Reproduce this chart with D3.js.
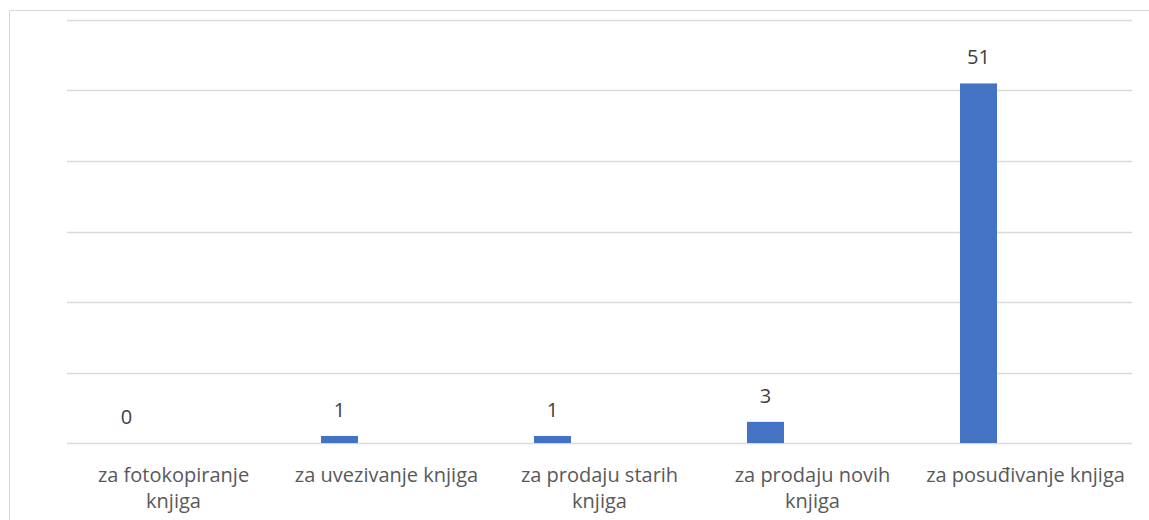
<!DOCTYPE html>
<html>
<head>
<meta charset="utf-8">
<script src="https://cdn.jsdelivr.net/npm/d3@7"></script>
<style>
  body { margin: 0; background: #fff; }
  svg text { font-family: "Open Sans", "Liberation Sans", Arial, sans-serif; }
</style>
</head>
<body>
<div id="chart"></div>
<script>
// data
var categories = ["za fotokopiranje knjiga", "za uvezivanje knjiga", "za prodaju starih knjiga", "za prodaju novih knjiga", "za posuđivanje knjiga"];
var values = [0, 1, 1, 3, 51];
var yTicks = [0, 10, 20, 30, 40, 50, 60];

var width = 1149, height = 520;
var margin = { top: 20, right: 17, bottom: 77, left: 67 };
var innerW = width - margin.left - margin.right;
var innerH = height - margin.top - margin.bottom;

var svg = d3.select("#chart")
  .append("svg")
    .attr("width", width)
    .attr("height", height);

// chart area border (only top and left edges are in view)
svg.append("path")
  .attr("d", "M9.5," + height + "V10.5H" + width)
  .attr("fill", "none")
  .attr("stroke", "#d9d9d9")
  .attr("stroke-width", 1);

var g = svg.append("g")
  .attr("transform", "translate(" + margin.left + "," + margin.top + ")");

var x = d3.scaleBand()
  .domain(categories)
  .range([0, innerW]);

var y = d3.scaleLinear()
  .domain([0, 60])
  .range([innerH, 0]);

// gridlines
g.selectAll(".grid")
  .data(yTicks)
  .enter().append("line")
    .attr("x1", 0)
    .attr("x2", innerW)
    .attr("y1", function(d) { return Math.round(y(d)) + 0.5; })
    .attr("y2", function(d) { return Math.round(y(d)) + 0.5; })
    .attr("stroke", "#d9d9d9")
    .attr("stroke-width", 1.3);

// bars sit left of the category centre (first series of a cluster)
var barW = 37;
var barShift = -47;
function barCenter(d, i) { return x(categories[i]) + x.bandwidth() / 2 + barShift; }

g.selectAll(".bar")
  .data(values)
  .enter().append("rect")
    .attr("x", function(d, i) { return barCenter(d, i) - barW / 2; })
    .attr("y", function(d) { return y(d); })
    .attr("width", barW)
    .attr("height", function(d) { return y(0) - y(d); })
    .attr("fill", "#4472c4");

// data labels
g.selectAll(".val")
  .data(values)
  .enter().append("text")
    .attr("x", barCenter)
    .attr("y", function(d) { return y(d) - 19; })
    .attr("text-anchor", "middle")
    .style("font-size", "20px")
    .style("fill", "#404040")
    .text(function(d) { return d; });

// category labels, wrapped like the original
var wrapped = [["za fotokopiranje", "knjiga"], ["za uvezivanje knjiga"], ["za prodaju starih", "knjiga"], ["za prodaju novih", "knjiga"], ["za posuđivanje knjiga"]];

var xAxis = g.append("g")
  .attr("transform", "translate(0," + innerH + ")")
  .call(d3.axisBottom(x).tickSize(0).tickFormat(""));
xAxis.select(".domain").remove();

xAxis.selectAll(".tick").each(function(d, i) {
  var t = d3.select(this).append("text")
    .attr("text-anchor", "middle")
    .style("font-size", "20px")
    .style("fill", "#595959");
  wrapped[i].forEach(function(line, j) {
    t.append("tspan")
      .attr("x", 0)
      .attr("y", 39 + j * 26)
      .text(line);
  });
});
</script>
</body>
</html>
